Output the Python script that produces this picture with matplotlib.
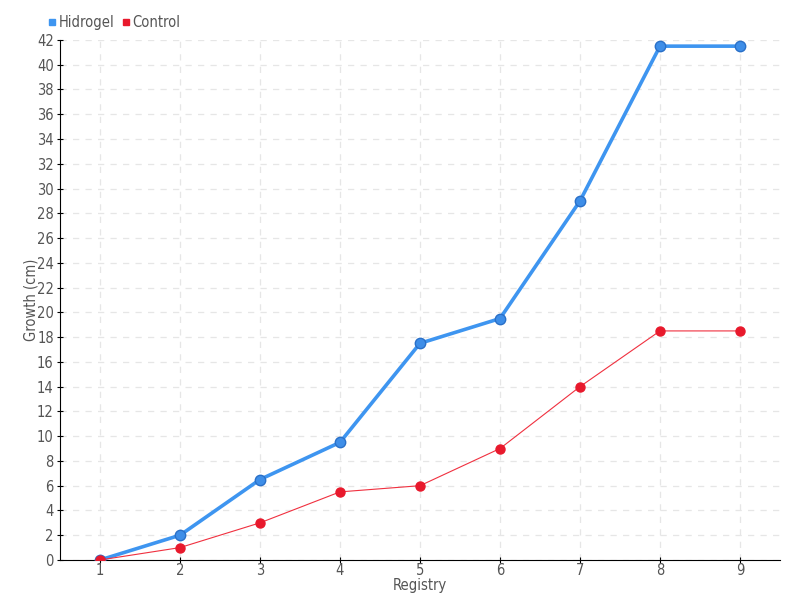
import matplotlib
matplotlib.use('Agg')
import matplotlib.pyplot as plt

plt.rcParams['font.family'] = ['DejaVu Sans']
plt.rcParams['font.stretch'] = 'condensed'

registry = [1, 2, 3, 4, 5, 6, 7, 8, 9]
hidrogel = [0, 2, 6.5, 9.5, 17.5, 19.5, 29, 41.5, 41.5]
control = [0, 1, 3, 5.5, 6, 9, 14, 18.5, 18.5]

figure = plt.figure(figsize=(8, 6), dpi=100)
axes = figure.add_axes([0.075, 0.0667, 0.9, 0.8667])

axes.plot(registry, hidrogel, color='#3e95f0', linewidth=2.6, marker='o',
          markersize=7.5, markerfacecolor='#3e8ee8', markeredgecolor='#2a70c8',
          markeredgewidth=1, label='Hidrogel', zorder=3)
axes.plot(registry, control, color='#f0303f', linewidth=0.8, marker='o',
          markersize=6.5, markerfacecolor='#e8192c', markeredgecolor='#e8192c',
          label='Control', zorder=4)

axes.set_xlim(0.5, 9.5)
axes.set_ylim(0, 42)
axes.set_xticks(registry)
axes.set_yticks(range(0, 43, 2))
axes.grid(True, color='#e6e6e6', linestyle=(0, (5, 5)), linewidth=0.9)
axes.set_axisbelow(True)
for side in ('top', 'right'):
    axes.spines[side].set_visible(False)
for side in ('left', 'bottom'):
    axes.spines[side].set_color('black')
axes.tick_params(direction='inout', length=5, colors='black',
                 labelcolor='#555555', labelsize=10.5, pad=2)
axes.tick_params(axis='x', pad=0)
axes.set_xlabel('Registry', color='#555555', fontsize=10.5, labelpad=0)
axes.set_ylabel('Growth (cm)', color='#555555', fontsize=10.5, labelpad=-1)

leg = axes.legend(loc='lower left', bbox_to_anchor=(-0.03, 1.0), ncol=2,
                  frameon=False, fontsize=10.5, handlelength=0.5,
                  handleheight=0.5, handletextpad=0.2, columnspacing=0.5,
                  borderaxespad=0.3)
for handle, col in zip(leg.legend_handles, ['#3e95f0', '#e8192c']):
    handle.set_linestyle('None')
    handle.set_marker('s')
    handle.set_markersize(5)
    handle.set_markerfacecolor(col)
    handle.set_markeredgecolor(col)
for t in leg.get_texts():
    t.set_color('#555555')

figure.savefig('out.png')
